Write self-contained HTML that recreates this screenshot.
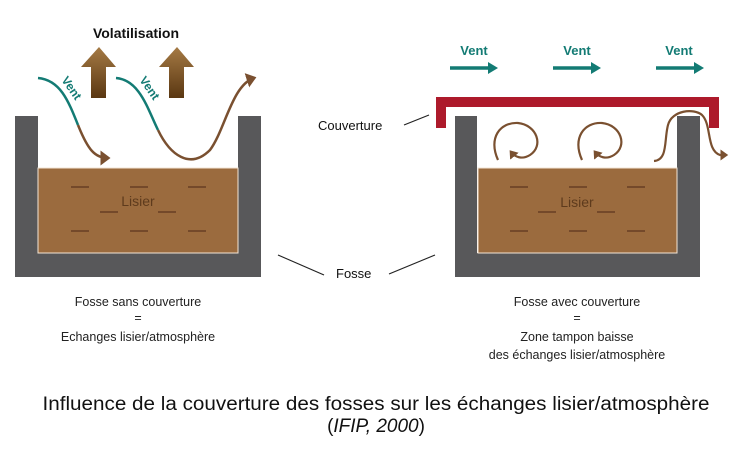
<!DOCTYPE html>
<html><head><meta charset="utf-8"><style>html,body{margin:0;padding:0;background:#fff}svg{display:block}</style></head>
<body>
<svg width="747" height="449" viewBox="0 0 747 449" font-family="Liberation Sans, sans-serif">
<defs>
<linearGradient id="vg" x1="0" y1="0" x2="0" y2="1"><stop offset="0" stop-color="#a57a45"/><stop offset="1" stop-color="#5a3712"/></linearGradient>
<marker id="ah" markerWidth="6" markerHeight="6" refX="3" refY="3" orient="auto" markerUnits="strokeWidth"><path d="M0,0 L4,3 L0,6 Z" fill="#7a5030"/></marker>
<marker id="ah2" markerWidth="5" markerHeight="5" refX="2.5" refY="2.5" orient="auto" markerUnits="strokeWidth"><path d="M0,0 L3.5,2.5 L0,5 Z" fill="#7a5030"/></marker>
</defs>
<!-- Left fosse -->
<path d="M15,116 H38 V253 H238 V116 H261 V277 H15 Z" fill="#58585a"/>
<rect x="38" y="168" width="200" height="85" fill="#9b6b3e" stroke="#f3e6d6" stroke-width="1"/>
<g stroke="#74492a" stroke-width="2">
<line x1="71" y1="187" x2="89" y2="187"/><line x1="130" y1="187" x2="148" y2="187"/><line x1="188" y1="187" x2="206" y2="187"/>
<line x1="100" y1="212" x2="118" y2="212"/><line x1="158" y1="212" x2="176" y2="212"/>
<line x1="71" y1="231" x2="89" y2="231"/><line x1="130" y1="231" x2="148" y2="231"/><line x1="188" y1="231" x2="206" y2="231"/>
</g>
<text x="138" y="206" font-size="14" fill="#5e3b1d" text-anchor="middle">Lisier</text>
<text x="136" y="38" font-size="14" font-weight="bold" text-anchor="middle" fill="#111">Volatilisation</text>
<path d="M99,47 L116,67 H106 V98 H91 V67 H81 Z" fill="url(#vg)"/>
<path d="M177,47 L194,67 H184 V98 H169 V67 H159 Z" fill="url(#vg)"/>
<path d="M38,78 C60,80 68,100 78,125" stroke="#137b74" stroke-width="2.5" fill="none"/>
<path d="M78,125 C88,150 95,158 108,158" stroke="#7a5030" stroke-width="2.5" fill="none" marker-end="url(#ah)"/>
<path d="M116,78 C140,80 148,110 158,130" stroke="#137b74" stroke-width="2.5" fill="none"/>
<path d="M158,130 C170,155 190,170 210,150 C225,130 232,85 254,78" stroke="#7a5030" stroke-width="2.5" fill="none" marker-end="url(#ah)"/>
<text x="0" y="0" font-size="12" font-weight="bold" fill="#137b74" transform="translate(61,80) rotate(55)">Vent</text>
<text x="0" y="0" font-size="12" font-weight="bold" fill="#137b74" transform="translate(139,80) rotate(55)">Vent</text>
<!-- Right fosse -->
<path d="M455,116 H477 V253 H677 V116 H700 V277 H455 Z" fill="#58585a"/>
<rect x="478" y="168" width="199" height="85" fill="#9b6b3e" stroke="#f3e6d6" stroke-width="1"/>
<g stroke="#74492a" stroke-width="2">
<line x1="510" y1="187" x2="528" y2="187"/><line x1="569" y1="187" x2="587" y2="187"/><line x1="627" y1="187" x2="645" y2="187"/>
<line x1="538" y1="212" x2="556" y2="212"/><line x1="597" y1="212" x2="615" y2="212"/>
<line x1="510" y1="231" x2="528" y2="231"/><line x1="569" y1="231" x2="587" y2="231"/><line x1="627" y1="231" x2="645" y2="231"/>
</g>
<text x="577" y="207" font-size="14" fill="#5e3b1d" text-anchor="middle">Lisier</text>
<path d="M436,128 V97 H719 V128 H709 V107 H446 V128 Z" fill="#ad1a2b"/>
<path d="M498,160 C488,138 500,122 518,123 C537,125 544,146 530,155 C522,160 515,157 511,152" stroke="#7a5030" stroke-width="2.2" fill="none" marker-end="url(#ah2)"/>
<path d="M582,160 C572,138 584,122 602,123 C621,125 628,146 614,155 C606,160 599,157 595,152" stroke="#7a5030" stroke-width="2.2" fill="none" marker-end="url(#ah2)"/>
<path d="M654,161 C668,160 664,140 668,125 C672,110 694,108 702,115 C712,125 706,150 720,155 L726,155" stroke="#7a5030" stroke-width="2.2" fill="none" marker-end="url(#ah2)"/>
<g fill="#137b74" stroke="#137b74">
<line x1="450" y1="68" x2="490" y2="68" stroke-width="3.5"/><path d="M488,62 L498,68 L488,74 Z" stroke="none"/>
<line x1="553" y1="68" x2="593" y2="68" stroke-width="3.5"/><path d="M591,62 L601,68 L591,74 Z" stroke="none"/>
<line x1="656" y1="68" x2="696" y2="68" stroke-width="3.5"/><path d="M694,62 L704,68 L694,74 Z" stroke="none"/>
</g>
<g font-size="13" font-weight="bold" fill="#137b74" text-anchor="middle">
<text x="474" y="55">Vent</text><text x="577" y="55">Vent</text><text x="679" y="55">Vent</text>
</g>
<!-- Labels -->
<text x="318" y="130" font-size="13" fill="#111">Couverture</text>
<line x1="404" y1="125" x2="429" y2="115" stroke="#222" stroke-width="1.2"/>
<text x="336" y="278" font-size="13" fill="#111">Fosse</text>
<line x1="278" y1="255" x2="324" y2="275" stroke="#222" stroke-width="1.2"/>
<line x1="389" y1="274" x2="435" y2="255" stroke="#222" stroke-width="1.2"/>
<g font-size="12.5" fill="#222" text-anchor="middle">
<text x="138" y="306">Fosse sans couverture</text>
<text x="138" y="322">=</text>
<text x="138" y="341">Echanges lisier/atmosphère</text>
<text x="577" y="306">Fosse avec couverture</text>
<text x="577" y="322">=</text>
<text x="577" y="341">Zone tampon baisse</text>
<text x="577" y="359">des échanges lisier/atmosphère</text>
</g>
<text x="376" y="410" font-size="19" fill="#111" text-anchor="middle" textLength="667" lengthAdjust="spacingAndGlyphs">Influence de la couverture des fosses sur les échanges lisier/atmosphère</text>
<text x="376" y="432" font-size="19" fill="#111" text-anchor="middle">(<tspan font-style="italic">IFIP, 2000</tspan>)</text>
</svg>
</body></html>
